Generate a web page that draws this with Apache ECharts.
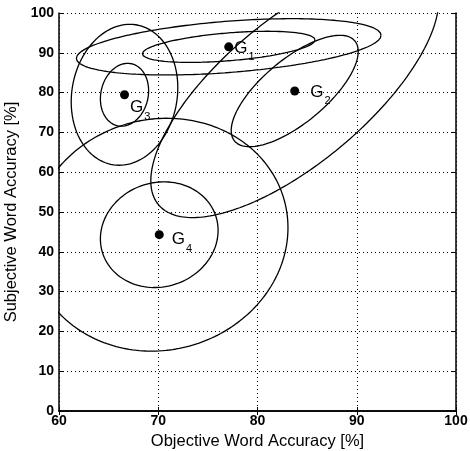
<!DOCTYPE html>
<html>
<head>
<meta charset="utf-8">
<script src="https://cdn.jsdelivr.net/npm/echarts@6/dist/echarts.min.js"></script>
<style>
  html, body { margin: 0; padding: 0; background: #fff; }
  #chart { width: 470px; height: 451px; }
</style>
</head>
<body>
<div id="chart"></div>
<script>
// group means (objective %, subjective %)
const groupNames = ['G1', 'G2', 'G3', 'G4'];
const meanX = [77.1, 83.75, 66.6, 70.1];
const meanY = [91.5, 80.4, 79.45, 44.3];

// contour ellipses: owning group, half extent in x, half extent in y, correlation
const contourGroup = [0, 0, 1, 1, 2, 2, 3, 3];
const contourHalfX = [8.7, 15.35, 6.4, 14.5, 2.43, 5.37, 5.93, 12.97];
const contourHalfY = [3.91, 7.07, 14.0, 31.8, 7.9, 17.7, 13.28, 29.25];
const contourRho = [0.445, 0.41, 0.71, 0.71, 0.13, 0.1, 0.08, 0.06];

const xTicks = [60, 70, 80, 90, 100];
const yTicks = [0, 10, 20, 30, 40, 50, 60, 70, 80, 90, 100];

const labelOffset = [[-4, 1], [6, 1], [-4, 13], [3, 5]];
const font = '"Liberation Sans", Arial, Helvetica, sans-serif';

function ellipse (i) {
  const g = contourGroup[i];
  const a = contourHalfX[i];
  const b = contourHalfY[i];
  const r = contourRho[i];
  const pts = [];
  const n = 240;
  for (let k = 0; k <= n; k++) {
    const t = 2 * Math.PI * k / n;
    pts.push([
      meanX[g] + a * Math.cos(t),
      meanY[g] + b * (r * Math.cos(t) + Math.sqrt(1 - r * r) * Math.sin(t))
    ]);
  }
  return pts;
}

const series = [];
for (let i = 0; i < contourGroup.length; i++) {
  series.push({
    type: 'line',
    data: ellipse(i),
    showSymbol: false,
    smooth: false,
    clip: true,
    silent: true,
    lineStyle: { color: '#000', width: 1.3 },
    z: 2
  });
}
series.push({
  type: 'scatter',
  symbolSize: 9,
  itemStyle: { color: '#000', opacity: 1 },
  z: 3,
  data: groupNames.map((name, i) => ({
    value: [meanX[i], meanY[i]],
    label: {
      show: true,
      position: 'right',
      offset: labelOffset[i],
      color: '#000',
      textBorderWidth: 0,
      formatter: '{g|G}{s|' + name.slice(1) + '}',
      rich: {
        g: { fontSize: 17, fontFamily: font, color: '#000', verticalAlign: 'bottom', lineHeight: 17 },
        s: { fontSize: 11, fontFamily: font, color: '#000', verticalAlign: 'bottom', lineHeight: 11, padding: [0, 0, -6, 1] }
      }
    }
  }))
});

const tickLabel = { color: '#000', fontSize: 14, fontWeight: 'bold', fontFamily: font };
const nameStyle = { color: '#000', fontSize: 16.5, fontFamily: font };
const chart = echarts.init(document.getElementById('chart'));
chart.setOption({
  animation: false,
  backgroundColor: '#fff',
  grid: { left: 59, top: 13, width: 397, height: 398, containLabel: false, outerBoundsMode: 'none' },
  xAxis: [{
    type: 'value', min: xTicks[0], max: xTicks[xTicks.length - 1], interval: 10,
    name: 'Objective Word Accuracy [%]', nameLocation: 'middle', nameGap: 21,
    nameTextStyle: nameStyle,
    axisLine: { show: true, lineStyle: { color: '#000', width: 1.5 } },
    axisTick: { show: true, inside: true, length: 4, lineStyle: { color: '#000' } },
    axisLabel: Object.assign({ margin: 3 }, tickLabel),
    splitLine: { show: true, lineStyle: { color: '#000', type: [1, 3], width: 1 } }
  }, {
    type: 'value', position: 'top', min: xTicks[0], max: xTicks[xTicks.length - 1], interval: 10,
    axisLine: { show: true, lineStyle: { color: '#000', width: 1.5 } },
    axisTick: { show: true, inside: true, length: 4, lineStyle: { color: '#000' } },
    axisLabel: { show: false }, splitLine: { show: false }
  }],
  yAxis: [{
    type: 'value', min: yTicks[0], max: yTicks[yTicks.length - 1], interval: 10,
    name: 'Subjective Word Accuracy [%]', nameLocation: 'middle', nameGap: 36,
    nameTextStyle: nameStyle,
    axisLine: { show: true, lineStyle: { color: '#000', width: 1.5 } },
    axisTick: { show: true, inside: true, length: 4, lineStyle: { color: '#000' } },
    axisLabel: Object.assign({ margin: 5 }, tickLabel),
    splitLine: { show: true, lineStyle: { color: '#000', type: [1, 3], width: 1 } }
  }, {
    type: 'value', position: 'right', min: yTicks[0], max: yTicks[yTicks.length - 1], interval: 10,
    axisLine: { show: true, lineStyle: { color: '#000', width: 1.5 } },
    axisTick: { show: true, inside: true, length: 4, lineStyle: { color: '#000' } },
    axisLabel: { show: false }, splitLine: { show: false }
  }],
  series: series
});
</script>
</body>
</html>
